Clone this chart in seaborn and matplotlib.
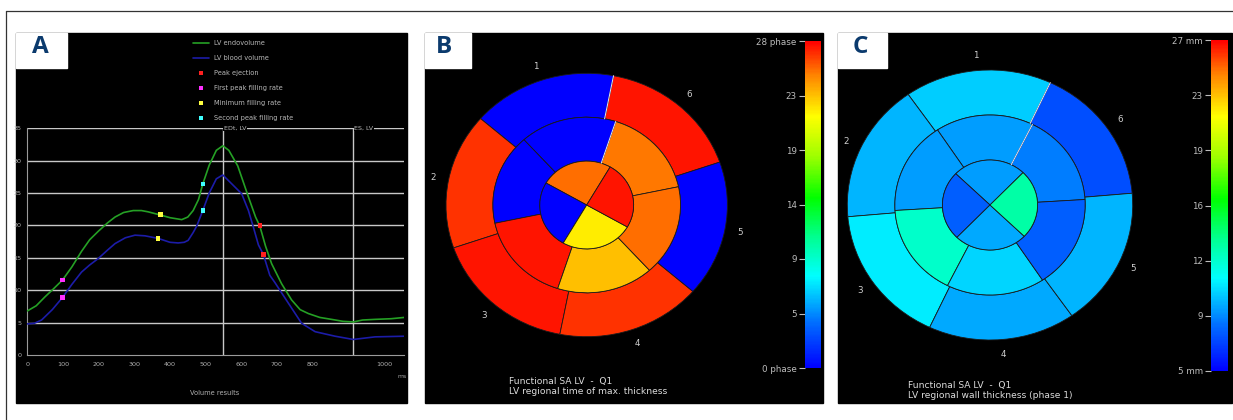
import numpy as np
import pandas as pd
import matplotlib
matplotlib.use('Agg')
import matplotlib.pyplot as plt
import seaborn as sns
from matplotlib.patches import Wedge, Rectangle
from matplotlib.lines import Line2D
from matplotlib.colors import LinearSegmentedColormap, Normalize
from matplotlib.cm import ScalarMappable
from matplotlib.ticker import MultipleLocator

sns.set_style("white")
plt.rcParams['font.family'] = ['DejaVu Sans']

W, H = 1233, 420

# ---- Panel A: volume curves (ms, volume) ----
endo_t = [0, 25, 50, 75, 99, 125, 152, 175, 199, 225, 246, 270, 297, 320, 339, 360, 374,
          400, 433, 450, 465, 480, 492, 510, 530, 548, 565, 590, 620, 640, 652, 668, 685,
          713, 741, 765, 788, 820, 853, 885, 914, 940, 975, 1020, 1057]
endo_v = [6.8, 7.6, 9.0, 10.3, 11.6, 13.6, 16.0, 17.8, 19.1, 20.4, 21.3, 22.0, 22.3, 22.3,
          22.1, 21.8, 21.6, 21.2, 20.9, 21.3, 22.3, 24.0, 26.4, 29.3, 31.6, 32.3, 31.6, 29.2,
          24.4, 21.3, 19.9, 16.8, 14.1, 11.0, 8.5, 7.0, 6.4, 5.8, 5.5, 5.2, 5.1, 5.4, 5.5,
          5.6, 5.8]
blood_t = [0, 20, 40, 70, 99, 125, 152, 175, 199, 225, 246, 275, 302, 330, 367, 400, 423,
           440, 451, 465, 475, 492, 510, 530, 548, 570, 601, 620, 634, 648, 662, 680, 694,
           732, 769, 807, 863, 914, 975, 1057]
blood_v = [4.8, 4.9, 5.4, 7.0, 8.9, 10.9, 12.8, 13.9, 14.9, 16.2, 17.2, 18.1, 18.5, 18.4,
           18.0, 17.4, 17.3, 17.4, 17.7, 18.9, 19.9, 22.3, 25.0, 27.2, 27.8, 26.6, 24.9, 22.3,
           19.7, 17.0, 15.5, 12.3, 11.2, 8.0, 4.9, 3.6, 2.9, 2.4, 2.8, 2.9]

event_names = ['Peak ejection', 'First peak filling rate', 'Minimum filling rate',
               'Second peak filling rate']
event_t_endo = [652, 99, 374, 492]
event_v_endo = [20.0, 11.6, 21.7, 26.4]
event_t_blood = [662, 99, 367, 492]
event_v_blood = [15.5, 8.9, 18.0, 22.3]
ed_time, es_time = 548, 914

# ---- Panels B / C: bullseye segment values ----
seg_numbers = ['6', '1', '2', '3', '4', '5']
b_outer = [27.5, 0, 26.9, 27.5, 26.9, 0]
b_middle = [25.3, 0, 0, 27.5, 23.4, 25.5]
b_inner = [25.5, 0, 22.0, 27.5]
b_ticks = ['0 phase', '5', '9', '14', '19', '23', '28 phase']

c_outer = [7.2, 10.1, 9.6, 10.8, 9.3, 9.6]
c_middle = [8.4, 9.1, 9.1, 12.4, 10.3, 7.6]
c_inner = [9.1, 7.6, 9.3, 13.3]
c_ticks = ['5 mm', '9', '12', '16', '19', '23', '27 mm']

cmap = LinearSegmentedColormap.from_list('scan', [
    (0.0, '#0000ff'), (0.14, '#0070ff'), (0.28, '#00ffff'), (0.4, '#00ff90'),
    (0.52, '#00ff00'), (0.65, '#a0ff00'), (0.77, '#ffff00'), (0.9, '#ff8000'),
    (1.0, '#ff0000')])

fig = plt.figure(figsize=(W / 100, H / 100), dpi=100)
fig.patch.set_facecolor('white')


def px_axes(x0, y0, x1, y1, **kw):
    return fig.add_axes([x0 / W, 1 - y1 / H, (x1 - x0) / W, (y1 - y0) / H], **kw)


# black panel backgrounds
bg = px_axes(0, 0, W, H, zorder=0)
bg.set_xlim(0, W)
bg.set_ylim(H, 0)
bg.axis('off')
for x0, x1 in [(16, 407), (425, 823), (838, 1232)]:
    bg.add_patch(Rectangle((x0, 33), x1 - x0, 370, color='black'))

# ---------------- Panel A ----------------
axA = px_axes(27.3, 128.3, 404.3, 355, zorder=2)
axA.set_facecolor('none')
curves = pd.concat([
    pd.DataFrame({'time': endo_t, 'volume': endo_v, 'series': 'LV endovolume'}),
    pd.DataFrame({'time': blood_t, 'volume': blood_v, 'series': 'LV blood volume'})])
line_pal = {'LV endovolume': '#25a025', 'LV blood volume': '#1c1ca8'}
sns.lineplot(data=curves, x='time', y='volume', hue='series', palette=line_pal,
             linewidth=1.2, legend=False, ax=axA, zorder=3)

events = pd.DataFrame({'time': event_t_endo + event_t_blood,
                       'volume': event_v_endo + event_v_blood,
                       'event': event_names * 2})
event_pal = {'Peak ejection': '#ff2020', 'First peak filling rate': '#ff30ff',
             'Minimum filling rate': '#ffff40', 'Second peak filling rate': '#40ffff'}
sns.scatterplot(data=events, x='time', y='volume', hue='event', palette=event_pal,
                marker='s', s=10, linewidth=0, legend=False, ax=axA, zorder=4)

axA.set_xlim(0, 1057)
axA.set_ylim(0, 35)
axA.set_xticks([0, 100, 200, 300, 400, 500, 600, 700, 800, 1000])
axA.set_yticks(range(0, 36, 5))
axA.xaxis.set_minor_locator(MultipleLocator(10))
axA.yaxis.set_minor_locator(MultipleLocator(0.5))
axA.tick_params(which='major', length=0, labelsize=4.6, colors='#b0b0b0')
axA.tick_params(axis='x', which='major', pad=5)
axA.tick_params(axis='y', which='major', pad=4)
axA.tick_params(which='minor', length=2, width=0.5, colors='#8a8a8a', direction='inout')
axA.set_xlabel('')
axA.set_ylabel('')
for s in ['top', 'right']:
    axA.spines[s].set_visible(False)
for s in ['left', 'bottom']:
    axA.spines[s].set_color('#9a9a9a')
    axA.spines[s].set_linewidth(0.8)
for v in range(5, 36, 5):
    axA.axhline(v, color='#c8c8c8', lw=1.0, zorder=1)
for t, name in [(ed_time, 'EDt, LV'), (es_time, 'ES, LV')]:
    axA.axvline(t, color='#c8c8c8', lw=1.0, zorder=1)
    axA.text(t + 3, 35, name, color='#b8b8b8', fontsize=4.6, va='center', ha='left',
             zorder=2, bbox=dict(fc='black', ec='none', pad=0.3))

handles = [Line2D([], [], color=line_pal['LV endovolume'], lw=1.2),
           Line2D([], [], color=line_pal['LV blood volume'], lw=1.2)]
handles += [Line2D([], [], ls='', marker='s', ms=3, mew=0, color=event_pal[n])
            for n in event_names]
leg = fig.legend(handles, ['LV endovolume', 'LV blood volume'] + event_names,
                 loc='upper left', bbox_to_anchor=(193 / W, 1 - 40 / H),
                 frameon=False, fontsize=4.8, labelcolor='#b8b8b8', handlelength=2.4,
                 handletextpad=0.8, labelspacing=1.35, borderpad=0, borderaxespad=0)

fig.text(401.7 / W, 1 - 376.7 / H, 'ms', color='#a0a0a0', fontsize=4.4, ha='center',
         va='center')
fig.text(215 / W, 1 - 393 / H, 'Volume results', color='#b0b0b0', fontsize=4.8,
         ha='center', va='center')


# ---------------- Panels B and C: bullseyes ----------------
def bullseye(panel, center, rx, ry, rings, cbar_box, vmin, vmax, tick_text, caption):
    x0, x1 = panel
    cx, cy = center
    ax = px_axes(x0, 33, x1, 403, zorder=2)
    ax.set_facecolor('black')
    ax.set_xlim((x0 - cx) / rx, (x1 - cx) / rx)
    ax.set_ylim((cy - 403) / ry, (cy - 33) / ry)
    ax.axis('off')
    norm = Normalize(vmin, vmax)
    for values, start, r_in, r_out in rings:
        step = 360 / len(values)
        for i, v in enumerate(values):
            ax.add_patch(Wedge((0, 0), r_out, start + i * step, start + (i + 1) * step,
                               width=r_out - r_in, fc=cmap(norm(v)), ec='#1a1a1a', lw=0.6))
    # light seam along the top boundary of the two outer rings
    for values, start, r_in, r_out in rings:
        a = np.deg2rad(start + 360 / len(values))
        if len(values) == 6:
            ax.plot([r_in * np.cos(a), r_out * np.cos(a)], [r_in * np.sin(a), r_out * np.sin(a)],
                    color='#e6e6ff', lw=0.7, zorder=5)
    for i, lab in enumerate(seg_numbers):
        a = np.deg2rad(rings[0][1] + 30 + 60 * i)
        ax.text(1.11 * np.cos(a), 1.11 * np.sin(a), lab, color='#d0d0d0', fontsize=6.3,
                ha='center', va='center')
    ax.text((caption[0] - cx) / rx, (cy - caption[1]) / ry,
            'Functional SA LV  -  Q1\n' + caption[2], color='#dcdcdc', fontsize=6.6,
            ha='left', va='top', linespacing=1.2)

    cax = px_axes(*cbar_box, zorder=3)
    cb = fig.colorbar(ScalarMappable(norm=norm, cmap=cmap), cax=cax)
    cb.outline.set_visible(False)
    cax.yaxis.set_ticks_position('left')
    cax.set_yticks(np.linspace(vmin, vmax, 7))
    cax.set_yticklabels(tick_text)
    cax.tick_params(length=4, width=0.8, colors='#bdbdbd', labelsize=6.3, pad=2)


bullseye((425, 823), (586.7, 205), 140.7, 131.7,
         [(b_outer, 19, 2 / 3, 1.0), (b_middle, 12, 1 / 3, 2 / 3), (b_inner, 60, 0, 1 / 3)],
         (805, 41, 821, 368), 0, 28, b_ticks,
         (509, 377, 'LV regional time of max. thickness'))
bullseye((838, 1232), (990, 205), 142.7, 135,
         [(c_outer, 5, 2 / 3, 1.0), (c_middle, 3.5, 1 / 3, 2 / 3), (c_inner, 46, 0, 1 / 3)],
         (1211, 40, 1228, 371), 5, 27, c_ticks,
         (908, 381, 'LV regional wall thickness (phase 1)'))

# ---------------- overlay: frame and panel letters ----------------
ov = px_axes(0, 0, W, H, zorder=20)
ov.set_facecolor('none')
ov.set_xlim(0, W)
ov.set_ylim(H, 0)
ov.axis('off')
ov.plot([6, W], [11, 11], color='#333333', lw=0.9)
ov.plot([6, 6], [11, H], color='#333333', lw=0.9)
for (bx0, bx1), letter, lx in [((16, 67), 'A', 40.3), ((425, 471), 'B', 443.5),
                                ((838, 887), 'C', 860.5)]:
    ov.add_patch(Rectangle((bx0, 33), bx1 - bx0, 35, color='white'))
    ov.text(lx, 52.7, letter, ha='center', va='baseline', fontsize=17.5,
            fontweight='bold', color='#0b3a6d', family='Open Sans')

fig.savefig('out.png', dpi=100)
